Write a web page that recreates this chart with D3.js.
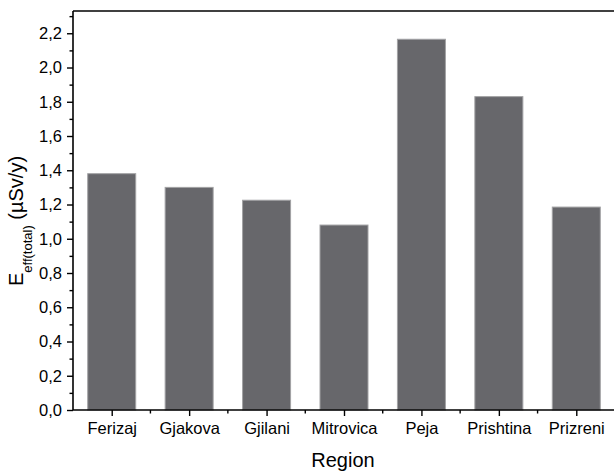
<!DOCTYPE html>
<html>
<head>
<meta charset="utf-8">
<script src="https://cdn.jsdelivr.net/npm/d3@7/dist/d3.min.js"></script>
<style>
  html, body { margin: 0; padding: 0; background: #fff; }
  svg { display: block; font-family: "Liberation Sans", Arial, sans-serif; }
</style>
</head>
<body>
<svg id="chart" width="614" height="473"></svg>
<script>
// Effective dose per region
const regions = ["Ferizaj", "Gjakova", "Gjilani", "Mitrovica", "Peja", "Prishtina", "Prizreni"];
const doseValues = [1.38, 1.30, 1.225, 1.08, 2.165, 1.83, 1.185];
const yMajorTicks = [0, 0.2, 0.4, 0.6, 0.8, 1.0, 1.2, 1.4, 1.6, 1.8, 2.0, 2.2];
const yMinorTicks = [0.1, 0.3, 0.5, 0.7, 0.9, 1.1, 1.3, 1.5, 1.7, 1.9, 2.1, 2.3];

const svg = d3.select("#chart");
const plotLeft = 73, plotRight = 615, plotTop = 11, plotBottom = 410;

const locale = d3.formatLocale({ decimal: ",", thousands: ".", grouping: [3], currency: ["", ""] });
const fmt = locale.format(".1f");

const x = d3.scaleBand().domain(regions).range([plotLeft, plotRight]).paddingInner(0.38).paddingOuter(0.19);
const xPoint = d3.scalePoint().domain(regions).range([plotLeft, plotRight]).padding(0.5);
const y = d3.scaleLinear().domain([0, 2.33]).range([plotBottom, plotTop]);

// bars
svg.append("g").selectAll("rect").data(regions).join("rect")
  .attr("x", d => x(d))
  .attr("width", x.bandwidth())
  .attr("y", (d, i) => y(doseValues[i]))
  .attr("height", (d, i) => y(0) - y(doseValues[i]))
  .attr("fill", "#67676b")
  .attr("stroke", "#a2a2a4")
  .attr("stroke-width", 1);

// top frame line
svg.append("line")
  .attr("x1", plotLeft).attr("x2", 614).attr("y1", plotTop).attr("y2", plotTop)
  .attr("stroke", "#000").attr("stroke-width", 1.6);

// y axis: minor then major ticks
const yMinor = svg.append("g").attr("transform", `translate(${plotLeft},0)`)
  .call(d3.axisLeft(y).tickValues(yMinorTicks).tickSize(3.5).tickFormat(""));
yMinor.select(".domain").remove();
const yAxis = svg.append("g").attr("transform", `translate(${plotLeft},0)`)
  .call(d3.axisLeft(y).tickValues(yMajorTicks).tickSize(6).tickSizeOuter(0).tickPadding(5).tickFormat(fmt));
yAxis.select(".domain").attr("d", `M0,${plotBottom}V${plotTop}`);

// x axis: boundary minor ticks and centred major ticks
const boundaries = d3.range(1, regions.length).map(i => plotLeft + i * x.step());
const xMinor = svg.append("g");
xMinor.selectAll("line").data(boundaries).join("line")
  .attr("x1", d => d).attr("x2", d => d)
  .attr("y1", plotBottom).attr("y2", plotBottom + 3.5)
  .attr("stroke", "#000").attr("stroke-width", 1.4);
const xAxis = svg.append("g").attr("transform", `translate(0,${plotBottom})`)
  .call(d3.axisBottom(xPoint).tickSize(6).tickSizeOuter(0).tickPadding(6));
xAxis.select(".domain").attr("d", `M${plotLeft},0H614`);

[yMinor, yAxis, xAxis].forEach(g => {
  g.selectAll(".tick line").attr("stroke", "#000").attr("stroke-width", 1.4);
  g.select(".domain").attr("stroke", "#000").attr("stroke-width", 1.6);
  g.selectAll(".tick text").attr("fill", "#000").style("font-size", "16.5px")
    .style("font-family", "'Liberation Sans', Arial, sans-serif");
});

// axis titles
svg.append("text")
  .attr("x", 343).attr("y", 467)
  .attr("text-anchor", "middle")
  .style("font-size", "20px")
  .attr("fill", "#000")
  .text("Region");

const yTitle = svg.append("text")
  .attr("transform", "translate(23,221) rotate(-90)")
  .attr("text-anchor", "middle")
  .style("font-size", "20px")
  .attr("fill", "#000");
yTitle.append("tspan").text("E");
yTitle.append("tspan").attr("dy", 9).style("font-size", "13px").text("eff(total)");
yTitle.append("tspan").attr("dy", -9).text(" (µSv/y)");
</script>
</body>
</html>
